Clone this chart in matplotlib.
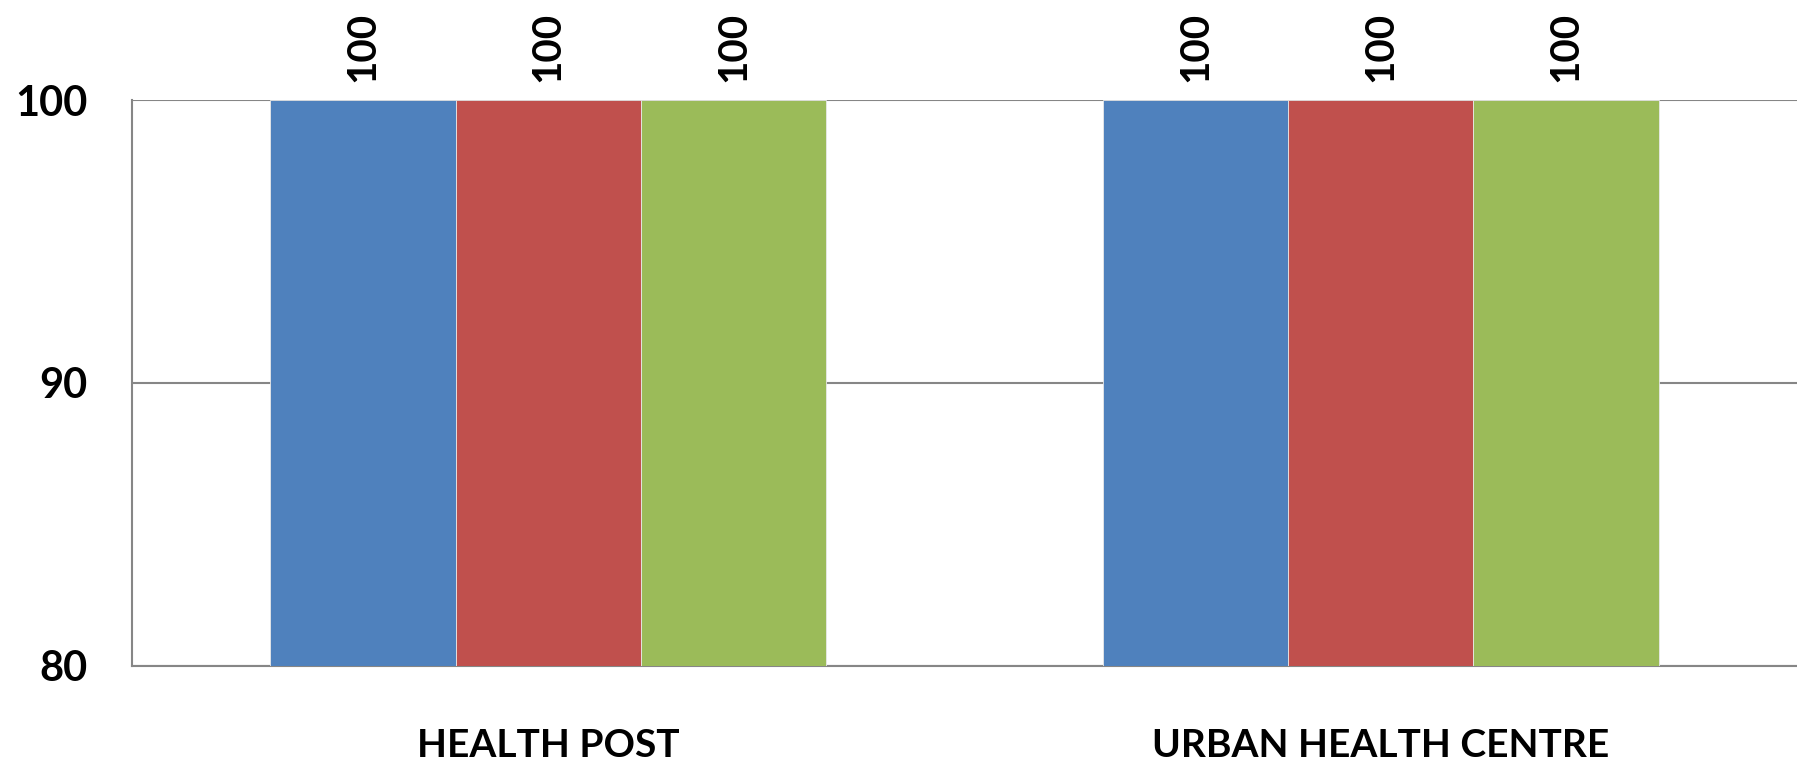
import numpy as np
import matplotlib
matplotlib.use("Agg")
import matplotlib.pyplot as plt

# datos
categorias = ["HEALTH POST", "URBAN HEALTH CENTRE"]
serie_1 = [100, 100]
serie_2 = [100, 100]
serie_3 = [100, 100]
colores = ["#4F81BD", "#C0504D", "#9BBB59"]
ticks_y = [80, 90, 100]

plt.rcParams["font.family"] = ["Lato", "DejaVu Sans"]
plt.rcParams["font.weight"] = "bold"

fig = plt.figure(figsize=(17.97, 7.61), dpi=100)
ax = fig.add_axes([0.0735, 0.125, 0.9265, 0.7435])

x = np.arange(len(categorias))
ancho = 0.2225
for i, (valores, color) in enumerate(zip([serie_1, serie_2, serie_3], colores)):
    barras = ax.bar(x + (i - 1) * ancho, valores, ancho, color=color,
                    edgecolor="#e8e8e8", linewidth=0.6, zorder=3)
    for b, v in zip(barras, valores):
        ax.text(b.get_x() + b.get_width() / 2, 100.65, f"{v}", rotation=90,
                ha="center", va="bottom", fontsize=29, fontweight="bold",
                clip_on=False)

ax.set_xlim(-0.5, 1.5)
ax.set_ylim(80, 100)
ax.set_yticks(ticks_y)
ax.set_yticklabels([str(t) for t in ticks_y], fontsize=30, fontweight="bold")
ax.set_xticks(x)
ax.set_xticklabels(categorias, fontsize=28, fontweight="bold")
ax.tick_params(axis="both", length=0)
ax.tick_params(axis="y", pad=32)
ax.tick_params(axis="x", pad=45)
ax.yaxis.grid(True, color="#868686", linewidth=1.5, zorder=0)
ax.set_axisbelow(True)

for lado in ["left", "bottom"]:
    ax.spines[lado].set_color("#868686")
    ax.spines[lado].set_linewidth(1.5)
ax.spines["right"].set_visible(False)
ax.spines["top"].set_visible(False)

fig.savefig("out.png", dpi=100)
